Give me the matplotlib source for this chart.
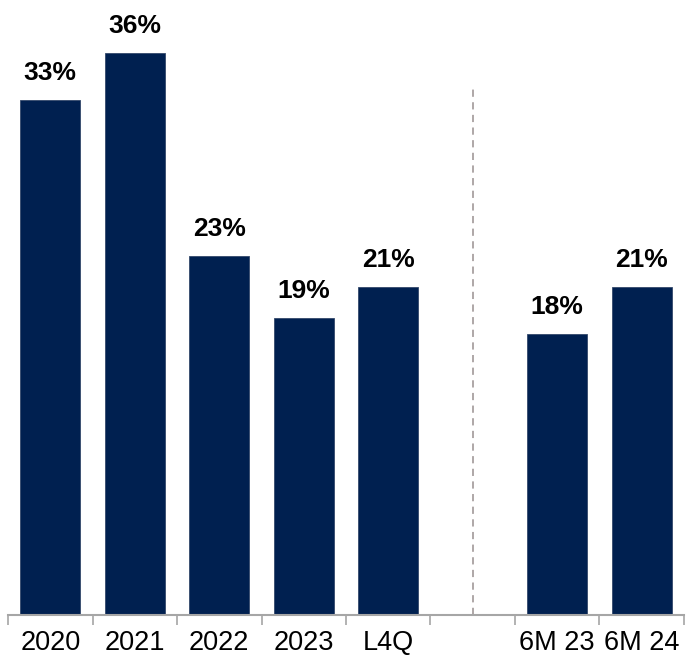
import numpy as np
import matplotlib.pyplot as plt

plt.rcParams['font.family'] = ['Liberation Sans', 'DejaVu Sans']

# one empty slot separates the full-year bars from the half-year bars
categories = ['2020', '2021', '2022', '2023', 'L4Q', '', '6M 23', '6M 24']
values = [33, 36, 23, 19, 21, None, 18, 21]

navy = '#002050'
axis_grey = '#a6a6a6'

fig = plt.figure(figsize=(6.92, 6.63), dpi=100)
ax = fig.add_axes([0.0116, 0.0724, 0.9768, 0.9276])

x = np.arange(len(categories))
for xi, v in zip(x, values):
    if v is None:
        continue
    ax.bar(xi, v, width=0.71, color=navy, edgecolor='#33486b', linewidth=0.6)
    ax.annotate(f'{v}%', (xi, v), xytext=(0, 11), textcoords='offset points',
                ha='center', va='bottom', fontsize=19, fontweight='bold')

# separator between annual and half-year figures
ax.plot([5, 5], [0, 33.8], color='#a8a0a0', linewidth=1.3, linestyle=(0, (4, 3)))

ax.set_xlim(-0.5, len(categories) - 0.5)
ax.set_ylim(0, 39.4)

ax.set_xticks(x)
ax.set_xticklabels(categories, fontsize=19.5)
ax.tick_params(axis='x', which='major', length=0, pad=11)
ax.set_xticks(np.arange(-0.5, len(categories)), minor=True)
ax.tick_params(axis='x', which='minor', length=7, width=1.2, color=axis_grey, direction='out')
ax.set_yticks([])

for side in ['top', 'right', 'left']:
    ax.spines[side].set_visible(False)
ax.spines['bottom'].set_color(axis_grey)
ax.spines['bottom'].set_linewidth(1.5)

fig.savefig('out.png', dpi=100)
